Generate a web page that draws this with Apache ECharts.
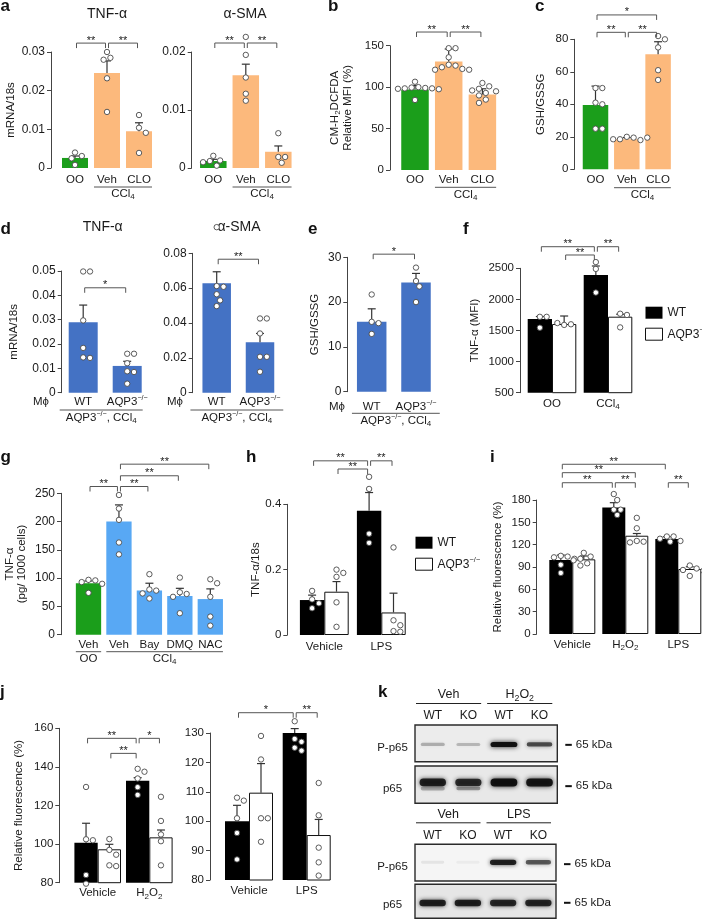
<!DOCTYPE html>
<html>
<head>
<meta charset="utf-8">
<script src="https://cdn.jsdelivr.net/npm/echarts@6.0.0/dist/echarts.min.js"></script>
<style>
html,body{margin:0;padding:0;background:#ffffff;}
#chart{width:702px;height:920px;}
</style>
</head>
<body>
<div id="chart"></div>
<script>
// ================= DATA =================
// (a) mRNA/18s
const aCats = ['OO', 'Veh', 'CLO'];
const aTnfMean = [0.0026, 0.0246, 0.0095];
const aTnfErr  = [0.0005, 0.0031, 0.0022];
const aTnfDots = [[0.0040, 0.0031, 0.0025, 0.0008],
                  [0.0300, 0.0285, 0.0280, 0.0232, 0.0145],
                  [0.0137, 0.0104, 0.0091, 0.0039]];
const aSmaMean = [0.0012, 0.0160, 0.0028];
const aSmaErr  = [0.0003, 0.0019, 0.0010];
const aSmaDots = [[0.0021, 0.0013, 0.0012, 0.0010, 0.0004],
                  [0.0226, 0.0195, 0.0156, 0.0128, 0.0116],
                  [0.0060, 0.0019, 0.0019, 0.0009]];
const aGroups = [[1, 2, 'CCl_4']];
const aTnfBrackets = [[0, 0, 1, 0, 0.0323, '**'], [1, 0, 2, 0, 0.0323, '**']];
const aSmaBrackets = [[0, 0, 1, 0, 0.02155, '**'], [1, 0, 2, 0, 0.02155, '**']];

// (b) CM-H2DCFDA relative MFI
const bCats = ['OO', 'Veh', 'CLO'];
const bMean = [97, 131, 91];
const bErr  = [5, 15, 7];
const bDots = [[106.5, 100, 99.5, 99, 98.5, 98.5, 98, 97.5, 84.5],
               [147, 147, 136, 127, 126, 124, 122, 121, 121],
               [105, 101, 98, 96, 95, 93, 90, 85, 81]];
const bGroups = [[1, 2, 'CCl_4']];
const bBrackets = [[0, 0, 1, 0, 166.5, '**'], [1, 0, 2, 0, 166.5, '**']];

// (c) GSH/GSSG
const cCats = ['OO', 'Veh', 'CLO'];
const cMean = [39.5, 18.5, 70.8];
const cErr  = [11.7, 1.0, 7.7];
const cDots = [[50, 50, 41, 40, 25, 25],
               [20, 19.5, 18.5, 18, 18.5, 19.5],
               [82, 80, 75, 61, 55]];
const cGroups = [[1, 2, 'CCl_4']];
const cBrackets = [[0, 0, 2, 0, 95, '*'], [0, 0, 1, 0, 84.3, '**'], [1, 0, 2, 0, 84.3, '**']];

// (d) macrophage transfer, mRNA/18s
const dCats = ['WT', 'AQP3^−/−'];
const dTnfMean = [0.0289, 0.0110];
const dTnfErr  = [0.0071, 0.0019];
const dTnfDots = [[0.0498, 0.0498, 0.0297, 0.0184, 0.0145, 0.0143],
                  [0.0160, 0.0160, 0.0121, 0.0088, 0.0085, 0.0037]];
const dSmaMean = [0.0628, 0.0290];
const dSmaErr  = [0.0066, 0.0050];
const dSmaDots = [[0.0950, 0.0612, 0.0608, 0.0565, 0.0530, 0.0497],
                  [0.0426, 0.0426, 0.0340, 0.0206, 0.0206, 0.0120]];
const dGroups = [[0, 1, 'AQP3^−/−, CCl_4']];
const dTnfBrackets = [[0, 0, 1, 0, 0.0431, '*']];
const dSmaBrackets = [[0, 0, 1, 0, 0.0766, '**']];

// (e) GSH/GSSG
const eCats = ['WT', 'AQP3^−/−'];
const eMean = [15.6, 24.4];
const eErr  = [2.9, 2.0];
const eDots = [[21.7, 15.6, 15.3, 12.9], [27.7, 24.7, 23.5, 20.0]];
const eGroups = [[0, 1, 'AQP3^−/−, CCl_4']];
const eBrackets = [[0, 0, 1, 0, 30.7, '*']];

// (f) TNF-α (MFI)
const fCats = ['OO', 'CCl_4'];
const fWtMean = [1685, 2392];
const fWtErr  = [40, 145];
const fWtDots = [[1720, 1720, 1545], [2600, 2490, 2110]];
const fKoMean = [1604, 1722];
const fKoErr  = [129, 40];
const fKoDots = [[1590, 1600, 1620], [1770, 1750, 1550]];
const fBrackets = [[0, 0, 1, 0, 2847, '**'], [0, 1, 1, 0, 2714, '**'], [1, 0, 1, 1, 2847, '**']];

// (g) TNF-α pg / 1000 cells
const gCats = ['Veh', 'Veh', 'Bay', 'DMQ', 'NAC'];
const gMean = [91, 200, 78, 68.5, 63];
const gErr  = [4, 29.5, 13, 13.5, 18];
const gDots = [[97, 96, 93, 90, 74],
               [247, 223, 203, 163, 142],
               [107, 80, 78, 73, 64],
               [101, 75, 72, 67, 38],
               [98, 91, 67, 32, 16]];
const gGroups = [[0, 0, 'OO'], [1, 4, 'CCl_4']];
const gBrackets = [[0, 0, 1, 0, 262, '**'], [1, 0, 2, 0, 262, '**'], [1, 0, 3, 0, 281, '**'], [1, 0, 4, 0, 301.5, '**']];

// (h) TNF-α/18s
const hCats = ['Vehicle', 'LPS'];
const hWtMean = [0.107, 0.380];
const hWtErr  = [0.015, 0.056];
const hWtDots = [[0.135, 0.109, 0.097, 0.082], [0.484, 0.447, 0.310, 0.282]];
const hKoMean = [0.1325, 0.069];
const hKoErr  = [0.031, 0.059];
const hKoDots = [[0.200, 0.190, 0.178, 0.100, 0.025], [0.268, 0.045, 0.030, 0.012, 0.010]];
const hBrackets = [[0, 0, 1, 0, 0.533, '**'], [0, 1, 1, 0, 0.508, '**'], [1, 0, 1, 1, 0.533, '**']];

// (i) Relative fluorescence (%)
const iCats = ['Vehicle', 'H_2O_2', 'LPS'];
const iWtMean = [99.4, 170, 127.6];
const iWtErr  = [6.6, 6.4, 3.0];
const iWtDots = [[105, 104, 103, 101, 93, 82], [188, 180, 167, 167, 160], [131, 131, 128, 125, 124]];
const iKoMean = [100.3, 132, 87.3];
const iKoErr  = [4.5, 3.0, 3.0];
const iKoDots = [[109, 104, 101, 99, 95, 92], [156, 142, 125, 124, 123], [92, 88, 86, 85, 78]];
const iBrackets = [[0, 0, 2, 0, 228, '**'], [0, 0, 1, 1, 216.7, '**'], [0, 0, 1, 0, 203.2, '**'],
                   [1, 0, 1, 1, 203.2, '**'], [2, 0, 2, 1, 203.2, '**']];

// (j) Relative fluorescence (%), two experiments
const jLCats = ['Vehicle', 'H_2O_2'];
const jLWtMean = [100.7, 132.8];
const jLWtErr  = [10.1, 1.6];
const jLWtDots = [[129.6, 102.5, 102, 84, 79.5], [139, 137.5, 134, 129.5, 125.5]];
const jLKoMean = [97.3, 103.5];
const jLKoErr  = [2.6, 3.8];
const jLKoDots = [[102.6, 97, 94.5, 89, 88.6], [124.5, 112, 105, 101.5, 89]];
const jLBrackets = [[0, 0, 1, 0, 154.8, '**'], [0, 1, 1, 0, 147, '**'], [1, 0, 1, 1, 154.8, '*']];
const jRCats = ['Vehicle', 'LPS'];
const jRWtMean = [100, 130];
const jRWtErr  = [5.4, 1.5];
const jRWtDots = [[108, 107, 101, 96, 87], [134, 128, 127, 125, 124]];
const jRKoMean = [109.7, 95.3];
const jRKoErr  = [9.9, 5.3];
const jRKoDots = [[129, 121, 101, 101, 93], [113, 102, 91, 86, 81.5]];
const jRBrackets = [[0, 0, 1, 0, 136.9, '*'], [1, 0, 1, 1, 136.9, '**']];

// (k) western blot band intensities (0 = none, 1 = saturated)
const kLanes = ['WT', 'KO', 'WT', 'KO'];
const kTopTreat = ['Veh', 'H_2O_2'];
const kBotTreat = ['Veh', 'LPS'];
const kTopPhos  = [0.25, 0.22, 0.95, 0.65];
const kTopTotal = [0.85, 0.80, 0.95, 0.92];
const kTopTotalLow = [0.25, 0.35, 0.0, 0.0];
const kBotPhos  = [0.07, 0.04, 0.85, 0.60];
const kBotTotal = [0.85, 0.85, 0.82, 0.82];
const kMarker = '65 kDa';

// ================= STYLE / LAYOUT =================
const FONT = "'Liberation Sans', Arial, Helvetica, sans-serif";
const TXT = '#1a1a1a', AX = '#444444', ERR = '#333333', DOT = '#4a4a4a', BR = '#555555';
const GREEN = '#1b9e1b', ORANGE = '#fcb97c', BLUE = '#4472c4', LBLUE = '#58a8f4';
const WT_COLOR = '#000000', KO_COLOR = '#ffffff';
const KO = 'AQP3^−/−';
const R = 2.7;

function RICH(fs, lh) {
  const sub = Math.round(fs * 0.7 * 10) / 10, sup = Math.round(fs * 0.62 * 10) / 10;
  return {
    n:  {fontSize: fs, fontFamily: FONT, color: TXT, fill: TXT, lineHeight: lh || fs + 3},
    sb: {fontSize: sub, fontFamily: FONT, color: TXT, fill: TXT, lineHeight: sub + 1, verticalAlign: 'bottom'},
    sp: {fontSize: sup, fontFamily: FONT, color: TXT, fill: TXT, lineHeight: sup + 1, verticalAlign: 'top'}
  };
}
function rt(s) {
  let out = '', buf = '';
  const flush = () => { if (buf) { out += '{n|' + buf + '}'; buf = ''; } };
  for (let i = 0; i < s.length; i++) {
    const ch = s[i];
    if (ch === '_') { flush(); out += '{sb|' + s[i + 1] + '}'; i++; }
    else if (ch === '^') {
      flush(); let j = i + 1, sup = '';
      while (j < s.length && s[j] !== ',' && s[j] !== ' ' && s[j] !== '\n') { sup += s[j]; j++; }
      out += '{sp|' + sup + '}'; i = j - 1;
    } else buf += ch;
  }
  flush();
  return out;
}

const single = (name, mean, err, dots, colors) => [{name, mean, err, dots, colors}];
const pair = (wm, we, wd, km, ke, kd) => [
  {name: 'WT', mean: wm, err: we, dots: wd, color: WT_COLOR},
  {name: KO, mean: km, err: ke, dots: kd, color: KO_COLOR, border: '#111'}
];

const panels = [
  {cats: aCats, min: 0, max: 0.03, step: 0.01, yName: 'mRNA/18s', brackets: aTnfBrackets, groups: aGroups,
   series: single('a1', aTnfMean, aTnfErr, aTnfDots, [GREEN, ORANGE, ORANGE]),
   L: {axisX: 51, c0: 75, sp: 32, bw: 26, top: 52, bot: 168, nameGap: 34, lab: 4.5, tfs: 12, ul: 19, gl: 26, ext: [0, 0]}},
  {cats: aCats, min: 0, max: 0.02, step: 0.01, yName: '', brackets: aSmaBrackets, groups: aGroups,
   series: single('a2', aSmaMean, aSmaErr, aSmaDots, [GREEN, ORANGE, ORANGE]),
   L: {axisX: 191.7, c0: 213.3, sp: 32.5, bw: 26.5, top: 52, bot: 168, nameGap: 30, lab: 4.5, tfs: 12, ul: 19, gl: 26, ext: [0, 0]}},
  {cats: bCats, min: 0, max: 150, step: 50, yName: 'CM-H_2DCFDA\nRelative MFI (%)', brackets: bBrackets, groups: bGroups,
   series: single('b', bMean, bErr, bDots, [GREEN, ORANGE, ORANGE]),
   L: {axisX: 390, c0: 415, sp: 33.7, bw: 27.5, top: 45.7, bot: 170, nameGap: 36, lab: 2.5, tfs: 11.5, ul: 17.3, gl: 25, ext: [0, 0]}},
  {cats: cCats, min: 0, max: 80, step: 20, yName: 'GSH/GSSG', brackets: cBrackets, groups: cGroups,
   series: single('c', cMean, cErr, cDots, [GREEN, ORANGE, ORANGE]),
   L: {axisX: 574.3, c0: 595.5, sp: 31.3, bw: 25.5, top: 39.3, bot: 169.3, nameGap: 27, lab: 3.2, tfs: 11.5, ul: 18.4, gl: 25.7, ext: [0, 0]}},
  {cats: dCats, min: 0, max: 0.05, step: 0.01, yName: 'mRNA/18s', brackets: dTnfBrackets, groups: dGroups,
   series: single('d1', dTnfMean, dTnfErr, dTnfDots, [BLUE, BLUE]),
   L: {axisX: 61.7, c0: 83.2, sp: 44, bw: 29, top: 271, bot: 392.7, nameGap: 41.7, lab: 2.2, tfs: 12, ul: 17.3, gl: 25.3, ext: [9, 1]}},
  {cats: dCats, min: 0, max: 0.08, step: 0.02, yName: '', brackets: dSmaBrackets, groups: dGroups,
   series: single('d2', dSmaMean, dSmaErr, dSmaDots, [BLUE, BLUE]),
   L: {axisX: 192.7, c0: 216.7, sp: 43.3, bw: 28.5, top: 253.3, bot: 392.7, nameGap: 30, lab: 2.2, tfs: 12, ul: 17.3, gl: 25.3, ext: [12, 9]}},
  {cats: eCats, min: 0, max: 30, step: 10, yName: 'GSH/GSSG', brackets: eBrackets, groups: eGroups,
   series: single('e', eMean, eErr, eDots, [BLUE, BLUE]),
   L: {axisX: 347.3, c0: 371.7, sp: 44.3, bw: 29.5, top: 257.3, bot: 391.7, nameGap: 26, lab: 7.5, tfs: 12, ul: 21.6, gl: 29, ext: [5, 9]}},
  {cats: fCats, min: 500, max: 2500, step: 500, yName: 'TNF-α (MFI)', brackets: fBrackets, groups: [],
   series: pair(fWtMean, fWtErr, fWtDots, fKoMean, fKoErr, fKoDots),
   L: {axisX: 520, c0: 552, sp: 56, bw: 24.3, top: 268.3, bot: 392.7, nameGap: 39, lab: 3.8, tfs: 11.5}},
  {cats: gCats, min: 0, max: 250, step: 50, yName: 'TNF-α\n(pg/ 1000 cells)', brackets: gBrackets, groups: gGroups,
   series: single('g', gMean, gErr, gDots, [GREEN, LBLUE, LBLUE, LBLUE, LBLUE]),
   L: {axisX: 61, c0: 88.5, sp: 30.45, bw: 25.3, top: 493.3, bot: 634.7, nameGap: 32.5, lab: 2.8, tfs: 12, ul: 17, gl: 24.3, ext: [0, 0]}},
  {cats: hCats, min: 0, max: 0.4, step: 0.2, yName: 'TNF-α/18s', brackets: hBrackets, groups: [],
   series: pair(hWtMean, hWtErr, hWtDots, hKoMean, hKoErr, hKoDots),
   L: {axisX: 287.3, c0: 324.3, sp: 57, bw: 24.4, top: 504.3, bot: 635, nameGap: 25, lab: 4.2, tfs: 11.5}},
  {cats: iCats, min: 0, max: 180, step: 30, yName: 'Relative fluorescence (%)', brackets: iBrackets, groups: [],
   series: pair(iWtMean, iWtErr, iWtDots, iKoMean, iKoErr, iKoDots),
   L: {axisX: 536.7, c0: 572.3, sp: 53, bw: 23, top: 500, bot: 634, nameGap: 33, lab: 3.5, tfs: 11.5}},
  {cats: jLCats, min: 80, max: 160, step: 20, yName: 'Relative fluorescence (%)', brackets: jLBrackets, groups: [],
   series: pair(jLWtMean, jLWtErr, jLWtDots, jLKoMean, jLKoErr, jLKoDots),
   L: {axisX: 59.3, c0: 97.7, sp: 51.6, bw: 23.3, top: 728.3, bot: 882.7, nameGap: 34, lab: 3.1, tfs: 11.5}},
  {cats: jRCats, min: 80, max: 130, step: 10, yName: '', brackets: jRBrackets, groups: [],
   series: pair(jRWtMean, jRWtErr, jRWtDots, jRKoMean, jRKoErr, jRKoDots),
   L: {axisX: 210, c0: 249, sp: 57.7, bw: 24, top: 733, bot: 880, nameGap: 30, lab: 3.5, tfs: 11.5}}
];

// ================= BUILD =================
const grid = [], xAxis = [], yAxis = [], series = [];

function swarm(ys, r) {
  const d = 2 * r + 0.8, placed = [], out = [];
  ys.forEach((y) => {
    let off = 0;
    for (let t = 0; t < 40; t++) {
      const c = t === 0 ? 0 : (t % 2 ? 1 : -1) * Math.ceil(t / 2) * d * 0.55;
      if (placed.every(([px, py]) => Math.hypot(px - c, py - y) >= d)) { off = c; break; }
    }
    placed.push([off, y]); out.push(off);
  });
  return out;
}
const tickFmt = (v) => String(Math.round(v * 1e6) / 1e6);

panels.forEach((p, gi) => {
  const L = p.L, n = p.cats.length, ns = p.series.length;
  const left = L.c0 - L.sp / 2;
  grid.push({left: left, top: L.top, width: L.sp * n, height: L.bot - L.top, containLabel: false, outerBoundsMode: 'none'});
  xAxis.push({
    type: 'category', gridIndex: gi, data: p.cats,
    axisLine: {show: false}, axisTick: {show: false}, splitLine: {show: false},
    axisLabel: {interval: 0, margin: L.lab, fontSize: 11.5, color: TXT, fontFamily: FONT, formatter: (v) => rt(v), rich: RICH(11.5)}
  });
  yAxis.push({
    type: 'value', gridIndex: gi, min: p.min, max: p.max, interval: p.step, offset: left - L.axisX,
    splitLine: {show: false},
    axisLine: {show: true, lineStyle: {color: AX, width: 1}},
    axisTick: {show: true, inside: false, length: 4, lineStyle: {color: AX, width: 1}},
    axisLabel: {margin: 6, fontSize: L.tfs, color: TXT, fontFamily: FONT, formatter: tickFmt},
    name: p.yName ? rt(p.yName) : '', nameLocation: 'middle', nameGap: L.nameGap, nameRotate: 90,
    nameMoveOverlap: false,
    nameTextStyle: {fontSize: 11.5, color: TXT, fontFamily: FONT, rich: RICH(11.5, 12.5)}
  });
  const gapPct = (1 - ns * L.bw / L.sp) * 100;
  p.series.forEach((s) => {
    series.push({
      type: 'bar', name: s.name, xAxisIndex: gi, yAxisIndex: gi, silent: true, z: 2,
      barGap: '0%', barCategoryGap: gapPct + '%',
      itemStyle: {color: s.color || '#000', borderColor: s.border || 'transparent', borderWidth: s.border ? 1 : 0, borderRadius: 0},
      data: s.mean.map((v, i) => ({value: v, itemStyle: s.colors ? {color: s.colors[i]} : undefined}))
    });
  });
  const bx = (api, c, si) => api.coord([c, p.min])[0] + (si - (ns - 1) / 2) * L.bw;
  // error bars and individual points
  const items = [];
  p.series.forEach((s, si) => s.mean.forEach((m, i) => items.push([i, m, si])));
  series.push({
    type: 'custom', xAxisIndex: gi, yAxisIndex: gi, clip: false, z: 5, silent: true,
    dimensions: ['x', 'y', 's'], encode: {x: 0, y: 1}, data: items,
    renderItem: (params, api) => {
      const i = api.value(0), m = api.value(1), si = api.value(2);
      const s = p.series[si];
      const cx = bx(api, i, si);
      const yTop = api.coord([i, m])[1];
      const ch = [];
      const e = s.err[i];
      if (e > 0) {
        const ye = api.coord([i, m + e])[1];
        ch.push({type: 'line', shape: {x1: cx, y1: yTop, x2: cx, y2: ye}, style: {stroke: ERR, lineWidth: 1.2}});
        ch.push({type: 'line', shape: {x1: cx - 4, y1: ye, x2: cx + 4, y2: ye}, style: {stroke: ERR, lineWidth: 1.2}});
      }
      const ys = s.dots[i].map((v) => api.coord([i, v])[1]);
      const xs = swarm(ys, R);
      ys.forEach((y, k) => ch.push({type: 'circle', shape: {cx: cx + xs[k], cy: y, r: R}, style: {fill: '#ffffff', stroke: DOT, lineWidth: 0.9}}));
      return {type: 'group', children: ch};
    }
  });
  // significance brackets
  series.push({
    type: 'custom', xAxisIndex: gi, yAxisIndex: gi, clip: false, z: 6, silent: true,
    dimensions: ['x', 'y', 'k'], encode: {x: 0, y: 1},
    data: p.brackets.map((b, k) => [0, p.min, k]),
    renderItem: (params, api) => {
      const b = p.brackets[api.value(2)];
      const x1 = bx(api, b[0], b[1]) + 1.5, x2 = bx(api, b[2], b[3]) - 1.5;
      const y = api.coord([0, b[4]])[1];
      return {type: 'group', children: [
        {type: 'polyline', shape: {points: [[x1, y + 5], [x1, y], [x2, y], [x2, y + 5]]}, style: {stroke: BR, lineWidth: 1, fill: null}},
        {type: 'text', x: (x1 + x2) / 2, y: y - 2.5, style: {text: b[5], fontSize: 11, fontFamily: FONT, fill: TXT, align: 'center', verticalAlign: 'middle'}}
      ]};
    }
  });
  // group underlines (CCl4 / OO / AQP3-/-, CCl4)
  if (p.groups.length) {
    series.push({
      type: 'custom', xAxisIndex: gi, yAxisIndex: gi, clip: false, z: 6, silent: true,
      dimensions: ['x', 'y', 'k'], encode: {x: 0, y: 1},
      data: p.groups.map((g, k) => [0, p.min, k]),
      renderItem: (params, api) => {
        const g = p.groups[api.value(2)];
        const xl = bx(api, g[0], 0) - L.bw / 2 - L.ext[0];
        const xr = bx(api, g[1], ns - 1) + L.bw / 2 + L.ext[1];
        const yb = api.coord([0, p.min])[1];
        return {type: 'group', children: [
          {type: 'line', shape: {x1: xl, y1: yb + L.ul, x2: xr, y2: yb + L.ul}, style: {stroke: BR, lineWidth: 1}},
          {type: 'text', x: (xl + xr) / 2, y: yb + L.gl, style: {text: rt(g[2]), rich: RICH(11.5), fontSize: 11.5, fontFamily: FONT, fill: TXT, align: 'center', verticalAlign: 'middle'}}
        ]};
      }
    });
  }
});

// ================= (k) western blots =================
const kBoxes = [
  {vals: kTopPhos, lo: null, left: 415, top: 725, w: 142.3, h: 36.7, by: 0.47, bh: 4.6, lanes: true, treat: kTopTreat, row: 'P-p65', bg: '#ececec'},
  {vals: kTopTotal, lo: kTopTotalLow, left: 415, top: 766, w: 142.3, h: 37.3, by: 0.56, bh: 7.2, lanes: false, row: 'p65', bg: '#e8e8e8'},
  {vals: kBotPhos, lo: null, left: 415, top: 844.3, w: 141, h: 36.7, by: 0.51, bh: 5, lanes: true, treat: kBotTreat, row: 'P-p65', bg: '#f5f5f5'},
  {vals: kBotTotal, lo: null, left: 415, top: 884.3, w: 141, h: 34, by: 0.45, bh: 6, lanes: false, row: 'p65', bg: '#e6e6e6'}
];
function band(x, y, w, h, a) {
  return {type: 'rect', shape: {x: x - w / 2, y: y - h / 2, width: w, height: h, r: h / 2},
          style: {fill: 'rgba(12,12,12,' + a + ')', shadowBlur: 3 + 2 * a, shadowColor: 'rgba(12,12,12,' + Math.min(1, a) + ')'}};
}
kBoxes.forEach((B) => {
  const gi = grid.length;
  grid.push({left: B.left, top: B.top, width: B.w, height: B.h, show: true, backgroundColor: B.bg, borderColor: '#2a2a2a', borderWidth: 1.4, outerBoundsMode: 'none'});
  xAxis.push({type: 'category', gridIndex: gi, data: kLanes, position: 'top',
    axisLine: {show: false}, axisTick: {show: false}, splitLine: {show: false},
    axisLabel: {show: B.lanes, interval: 0, margin: 3, fontSize: 12, color: TXT, fontFamily: FONT}});
  yAxis.push({type: 'value', gridIndex: gi, min: 0, max: 1, show: false, splitLine: {show: false}});
  series.push({
    type: 'custom', xAxisIndex: gi, yAxisIndex: gi, clip: false, z: 5, silent: true,
    dimensions: ['x', 'y', 'a', 'lo'], encode: {x: 0, y: 1},
    data: B.vals.map((a, i) => [i, B.by, a, B.lo ? B.lo[i] : 0]),
    renderItem: (params, api) => {
      const i = api.value(0), a = api.value(2), lo = api.value(3);
      const pt = api.coord([i, B.by]);
      const cs = params.coordSys;
      const lw = cs.width / kLanes.length;
      const ch = [];
      const h = B.bh * (0.55 + 0.6 * a);
      if (a > 0) ch.push(band(pt[0], pt[1], 27 * (0.85 + 0.15 * a), h, a));
      if (lo > 0) ch.push(band(pt[0], pt[1] + h * 0.8, 24, h * 0.5, lo));
      const midY = cs.y + cs.height / 2;
      if (i === 0) {
        ch.push({type: 'text', x: cs.x - 22.5, y: midY + 4, style: {text: B.row, fontSize: 11.5, fontFamily: FONT, fill: TXT, align: 'center', verticalAlign: 'middle'}});
      }
      if (i === kLanes.length - 1) {
        const xr = cs.x + cs.width;
        ch.push({type: 'rect', shape: {x: xr + 8, y: midY + 0.5, width: 6.5, height: 2}, style: {fill: '#111'}});
        ch.push({type: 'text', x: xr + 18.5, y: midY + 1.5, style: {text: kMarker, fontSize: 11.5, fontFamily: FONT, fill: TXT, align: 'left', verticalAlign: 'middle'}});
      }
      if (B.lanes && i % 2 === 0) {
        const xl = cs.x + i * lw + 1, xr2 = cs.x + (i + 2) * lw - 5;
        ch.push({type: 'line', shape: {x1: xl, y1: cs.y - 21.5, x2: xr2, y2: cs.y - 21.5}, style: {stroke: '#222', lineWidth: 1}});
        ch.push({type: 'text', x: (xl + xr2) / 2, y: cs.y - 30, style: {text: rt(B.treat[i / 2]), rich: RICH(12.5), fontSize: 12.5, fontFamily: FONT, fill: TXT, align: 'center', verticalAlign: 'middle'}});
      }
      return {type: 'group', children: ch};
    }
  });
});

// ================= text decorations =================
const graphic = [];
const letters = [['a', 0.5, 6.8], ['b', 328, 6.8], ['c', 535, 6.8], ['d', 0.5, 229.6], ['e', 308, 229.6], ['f', 463, 229.6],
                 ['g', 0.5, 457.1], ['h', 246, 457.1], ['i', 490, 457.1], ['j', 0, 692.1], ['k', 378, 692.1]];
letters.forEach(([t, x, y]) => graphic.push({type: 'text', x: x, y: y, silent: true,
  style: {text: t, fontSize: 17, fontWeight: 'bold', fontFamily: FONT, fill: '#111', align: 'left', verticalAlign: 'middle'}}));
const titles = [['TNF-α', 107, 14.2], ['α-SMA', 245, 14.2], ['TNF-α', 102.7, 227.5], ['α-SMA', 239, 227.5]];
titles.forEach(([t, x, y]) => graphic.push({type: 'text', x: x, y: y, silent: true,
  style: {text: t, fontSize: 14, fontFamily: FONT, fill: TXT, align: 'center', verticalAlign: 'middle'}}));
const mphi = [[41, 402.3], [175, 402.3], [337, 407]];
mphi.forEach(([x, y]) => graphic.push({type: 'text', x: x, y: y, silent: true,
  style: {text: 'Mϕ', fontSize: 11.5, fontFamily: FONT, fill: TXT, align: 'center', verticalAlign: 'middle'}}));

const legendBase = {
  orient: 'vertical', itemWidth: 17, itemHeight: 12, itemGap: 8, selectedMode: false, icon: 'rect',
  data: [{name: 'WT', itemStyle: {color: WT_COLOR, borderWidth: 0}},
         {name: KO, itemStyle: {color: KO_COLOR, borderColor: '#111', borderWidth: 1}}],
  formatter: (nm) => rt(nm),
  textStyle: {fontSize: 12, color: TXT, fontFamily: FONT, rich: RICH(12)}
};

const chart = echarts.init(document.getElementById('chart'), null, {renderer: 'canvas', width: 702, height: 920});
chart.setOption({
  animation: false,
  backgroundColor: '#ffffff',
  textStyle: {fontFamily: FONT},
  grid: grid, xAxis: xAxis, yAxis: yAxis, series: series,
  legend: [Object.assign({left: 640, top: 301.7}, legendBase), Object.assign({left: 410, top: 531.7}, legendBase)],
  graphic: graphic
});
</script>
</body>
</html>
